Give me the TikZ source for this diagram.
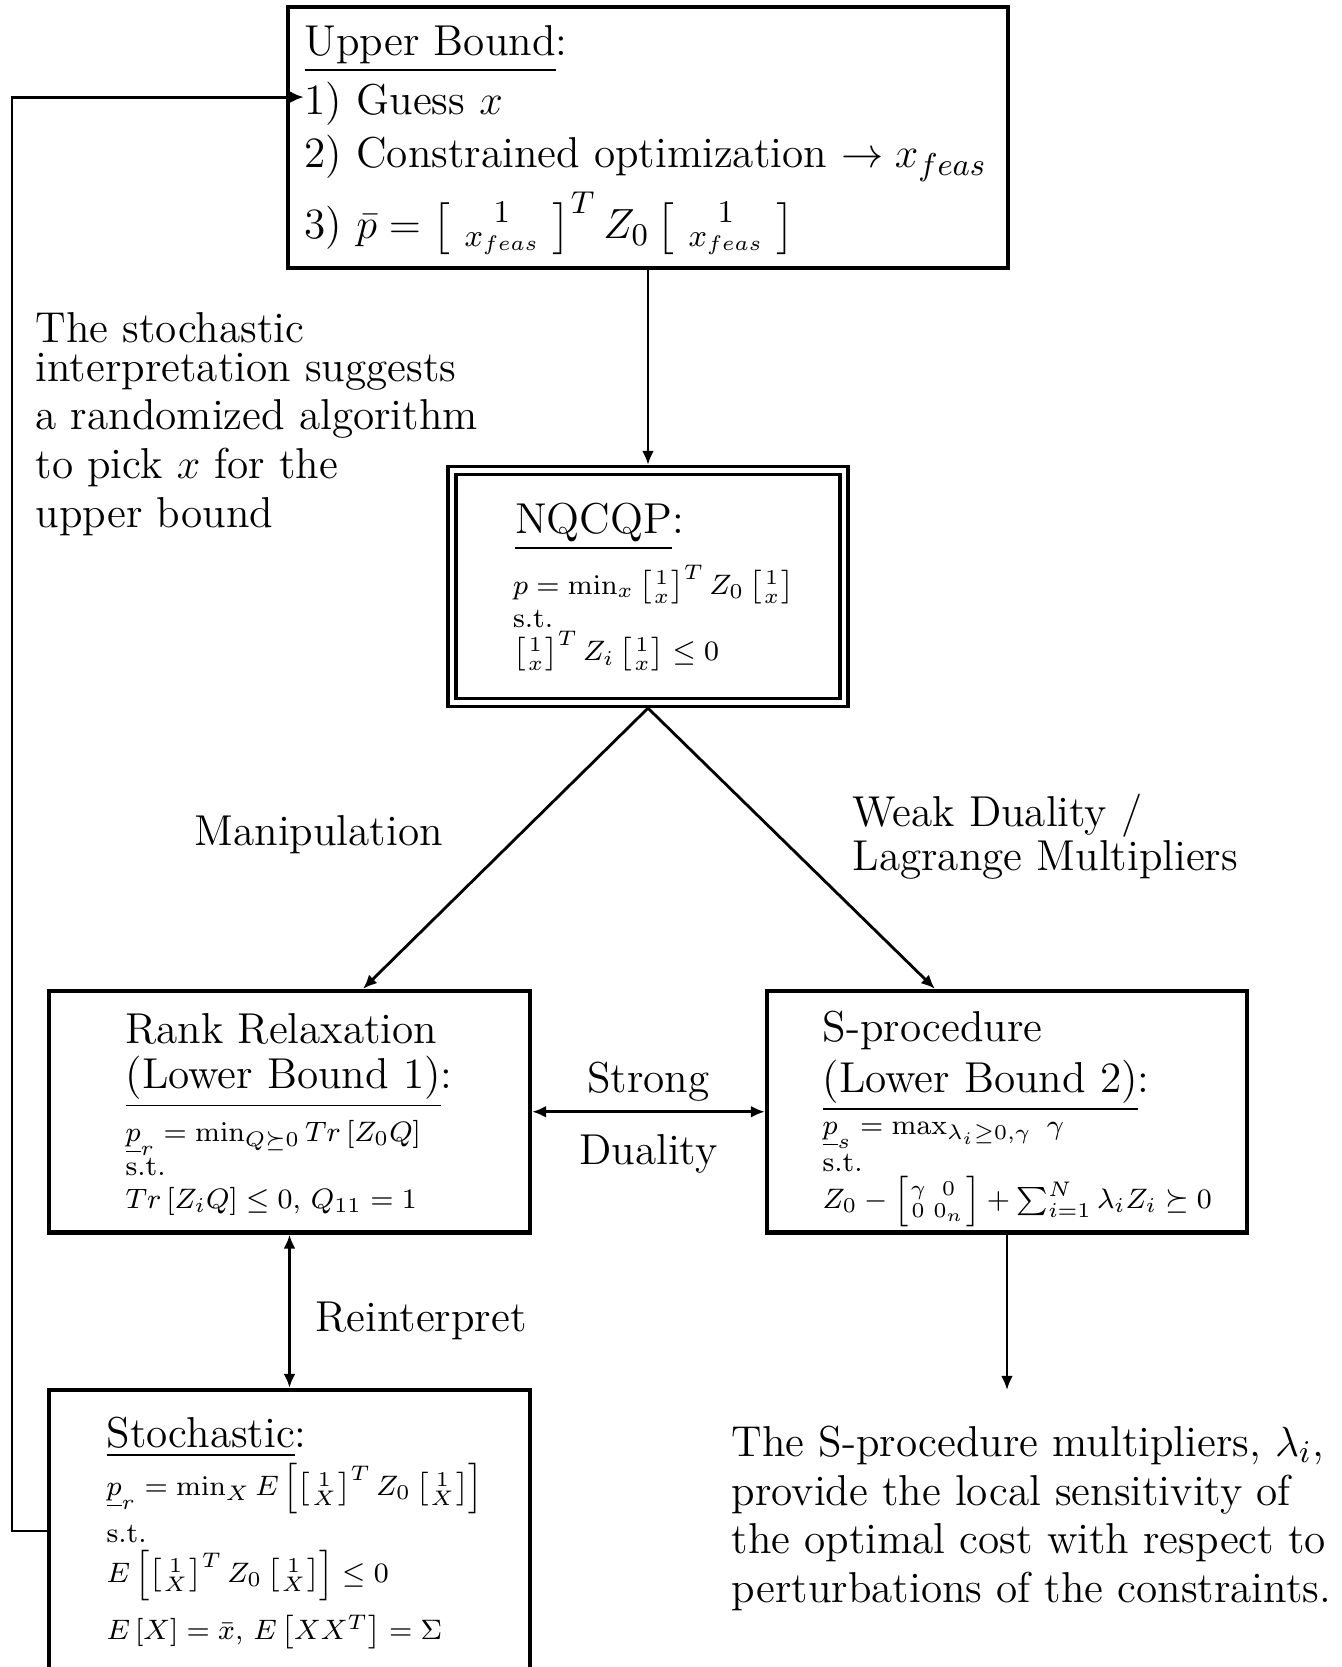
\documentclass[tikz,border=0pt]{standalone}
\usepackage{amsmath,amssymb}
\usetikzlibrary{arrows.meta}

% column vectors [1; v] used in the quadratic forms
\newcommand{\onevec}[1]{\left[\,\begin{smallmatrix}1\\#1\end{smallmatrix}\,\right]}
\newcommand{\tightvec}[1]{\left[\mkern-1.5mu\begin{smallmatrix}1\\#1\end{smallmatrix}\mkern-1.5mu\right]}

\begin{document}
\begin{tikzpicture}[
    blk/.style={rectangle, draw, line width=1.2pt, inner sep=0pt},
    txt/.style={inner sep=0pt, font=\fontsize{12.3}{14.5}\selectfont, align=left},
    frm/.style={inner sep=0pt, font=\footnotesize, align=left},
    conn/.style={line width=0.8pt},
    >={Latex[length=4pt,width=3.4pt]}
]
    \useasboundingbox (0,0) rectangle (13.42,-16.67);

    % boxes
    \node[blk, minimum width=7.2cm, minimum height=2.61cm] (ub) at (6.48,-1.375) {};
    \node[blk, double, line width=1pt, double distance=1.3pt, outer sep=1.6pt, minimum width=3.92cm, minimum height=2.32cm] (nq) at (6.48,-5.865) {};
    \node[blk, minimum width=4.81cm, minimum height=2.415cm] (rk) at (2.895,-11.1175) {};
    \node[blk, minimum width=4.80cm, minimum height=2.415cm] (sp) at (10.07,-11.1175) {};
    \node[blk, minimum width=4.81cm, minimum height=3.4cm] (st) at (2.895,-15.60) {};

    % upper bound
    \node[txt, anchor=base west, xshift=0.18cm, yshift=-0.51cm] (ubt) at (ub.north west) {\underline{Upper Bound}:};
    \node[txt, anchor=base west, xshift=0.18cm, yshift=-1.10cm] (guess) at (ub.north west) {1) Guess $x$};
    \node[txt, anchor=base west, xshift=0.18cm, yshift=-1.63cm] (copt) at (ub.north west) {2) Constrained optimization $\rightarrow x_{feas}$};
    \node[txt, anchor=base west, xshift=0.18cm, yshift=-2.34cm] (pbar) at (ub.north west) {3) $\bar{p} = \onevec{x_{feas}}^T Z_0 \onevec{x_{feas}}$};

    % NQCQP
    \node[txt, anchor=base west, xshift=0.68cm, yshift=-0.685cm] (nqt) at (nq.north west) {\underline{NQCQP}:};
    \node[frm, anchor=north west, xshift=0.66cm, yshift=-0.99cm] (nqf) at (nq.north west) {$p = \min_x \tightvec{x}^T Z_0 \tightvec{x}$\\ s.t.\\ $\tightvec{x}^T Z_i \tightvec{x} \leq 0$};

    % rank relaxation
    \node[txt, anchor=north west, xshift=0.78cm, yshift=-0.24cm, font=\fontsize{12.3}{12.8}\selectfont] (rkt) at (rk.north west) {Rank Relaxation\\\underline{(Lower Bound 1)}:};
    \node[frm, anchor=north west, xshift=0.78cm, yshift=-1.31cm] (rkf) at (rk.north west) {$\underline{p}_r = \min_{Q\succeq 0} Tr\left[Z_0 Q\right]$\\ s.t.\\ $Tr\left[Z_i Q\right] \leq 0$, $Q_{11} = 1$};

    % S-procedure
    \node[txt, anchor=north west, xshift=0.57cm, yshift=-0.21cm] (spt) at (sp.north west) {S-procedure\\\underline{(Lower Bound 2)}:};
    \node[frm, anchor=north west, xshift=0.57cm, yshift=-1.33cm] (spf) at (sp.north west) {$\underline{p}_s = \max_{\lambda_i \geq 0, \gamma}\ \gamma$\\[1pt] s.t.\\[1pt] $Z_0 - \left[\mkern-1.5mu\begin{smallmatrix}\gamma & 0\\ 0 & 0_n\end{smallmatrix}\mkern-1.5mu\right] + \sum_{i=1}^N \lambda_i Z_i \succeq 0$};

    % stochastic
    \node[txt, anchor=base west, xshift=0.59cm, yshift=-0.60cm] (stt) at (st.north west) {\underline{Stochastic}:};
    \node[frm, anchor=north west, xshift=0.59cm, yshift=-0.75cm] (stf) at (st.north west) {$\underline{p}_r = \min_X E\left[\tightvec{X}^T Z_0 \tightvec{X}\right]$\\[2pt] s.t.\\[2pt] $E\left[\tightvec{X}^T Z_0 \tightvec{X}\right] \leq 0$\\[3pt] $E\left[X\right] = \bar{x}$, $E\left[XX^T\right] = \Sigma$};

    % free labels
    \node[txt, anchor=base west] (manip) at (1.94,-8.45) {Manipulation};
    \node[txt, anchor=north west, font=\fontsize{12.3}{10.6}\selectfont] (weak) at (8.52,-7.93) {Weak Duality /\\Lagrange Multipliers};
    \node[txt, anchor=north west, font=\fontsize{12.3}{13.9}\selectfont] (rmk) at (0.35,-3.12) {The stochastic\\[-3pt] interpretation suggests\\ a randomized algorithm\\ to pick $x$ for the\\ upper bound};
    \node[txt, anchor=north west, font=\fontsize{12.3}{13.9}\selectfont] (sens) at (7.31,-14.25) {The S-procedure multipliers, $\lambda_i$,\\ provide the local sensitivity of\\ the optimal cost with respect to\\ perturbations of the constraints.};

    \coordinate (fbl) at (0.12,-15.31);
    \coordinate (spout) at (10.07,-13.90);

    % connectors
    \draw[conn, ->] (ub) -- (nq);
    \draw[conn, ->] (nq.south) -- ([xshift=0.735cm]rk.north);
    \draw[conn, ->] (nq.south) -- ([xshift=-0.72cm]sp.north);
    \draw[conn, <->] (rk) -- node[txt, above=2.5pt] {Strong} node[txt, below=6pt] {Duality} (sp);
    \draw[conn, <->] (rk) -- node[txt, right=7pt, pos=0.56] {Reinterpret} (st);
    \draw[conn, ->] (sp) -- (spout);
    \draw[conn, ->] (st.west |- fbl) -- (fbl) |- ([yshift=2pt]guess.west);
\end{tikzpicture}
\end{document}
